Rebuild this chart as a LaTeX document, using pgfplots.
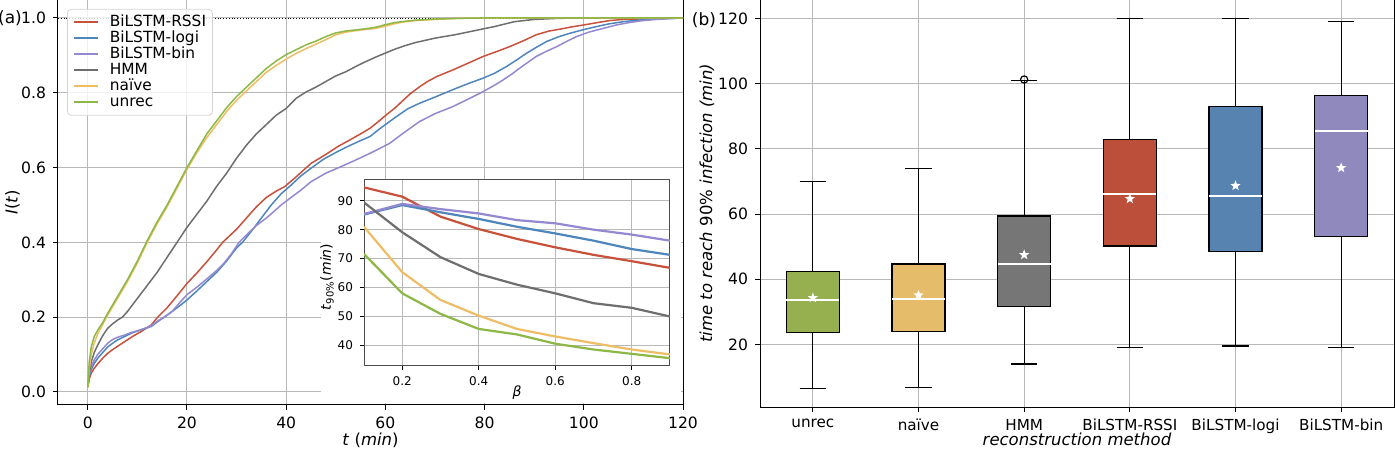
\documentclass[border=0pt]{standalone}
\usepackage{fontspec}
\setmainfont{DejaVu Sans}
\usepackage{pgfplots}
\pgfplotsset{compat=1.18}
\usepgfplotslibrary{statistics}
\newcommand\fs[1]{\fontsize{#1}{#1}\selectfont}
\definecolor{cRSSI}{HTML}{C8513B}
\definecolor{cLogi}{HTML}{4E86BC}
\definecolor{cBin}{HTML}{9489D0}
\definecolor{cHMM}{HTML}{6E6E6E}
\definecolor{cNaive}{HTML}{EFBD65}
\definecolor{cUnrec}{HTML}{8DB845}
\definecolor{bUnrec}{HTML}{97B04F}
\definecolor{bNaive}{HTML}{E5BC69}
\definecolor{bHMM}{HTML}{767676}
\definecolor{bRSSI}{HTML}{BB4F3A}
\definecolor{bLogi}{HTML}{5783B1}
\definecolor{bBin}{HTML}{8F89BD}
\definecolor{gridc}{HTML}{B8B8B8}
\pgfdeclareplotmark{fstar}{%
  \pgfpathmoveto{\pgfpointpolar{90}{\pgfplotmarksize}}%
  \pgfpathlineto{\pgfpointpolar{126}{0.42\pgfplotmarksize}}%
  \pgfpathlineto{\pgfpointpolar{162}{\pgfplotmarksize}}%
  \pgfpathlineto{\pgfpointpolar{198}{0.42\pgfplotmarksize}}%
  \pgfpathlineto{\pgfpointpolar{234}{\pgfplotmarksize}}%
  \pgfpathlineto{\pgfpointpolar{270}{0.42\pgfplotmarksize}}%
  \pgfpathlineto{\pgfpointpolar{306}{\pgfplotmarksize}}%
  \pgfpathlineto{\pgfpointpolar{342}{0.42\pgfplotmarksize}}%
  \pgfpathlineto{\pgfpointpolar{18}{\pgfplotmarksize}}%
  \pgfpathlineto{\pgfpointpolar{54}{0.42\pgfplotmarksize}}%
  \pgfpathclose\pgfusepathqfill}
\pgfplotsset{
  common/.style={
    scale only axis,
    axis line style={black, line width=0.5pt},
    tick align=outside, tick pos=left, major tick length=2.5pt,
    tick style={black, line width=0.5pt},
    grid=major, major grid style={gridc, line width=0.5pt},
    /pgf/number format/assume math mode=true,
    tick label style={font=\fs{7.8}},
    label style={font=\fs{8.25}},
  }
}
\begin{document}
\begin{tikzpicture}
\path[use as bounding box] (0,0) rectangle (697.5pt,224.5pt);
% ---------------- left panel
\begin{axis}[common, name=left,
  at={(29pt,22pt)}, anchor=south west,
  width=312.5pt, height=202.5pt,
  xmin=-6, xmax=120, ymin=-0.035, ymax=1.048,
  xtick={0,20,40,60,80,100,120}, ytick={0,0.2,0.4,0.6,0.8,1.0},
  yticklabel style={/pgf/number format/.cd, fixed, fixed zerofill, precision=1},
  xlabel={\textit{t} (\textit{min})}, ylabel={\textit{I}(\textit{t})},
  xlabel style={at={(axis description cs:0.5,-0.086)}, anchor=center},
  ylabel style={at={(axis description cs:-0.073,0.5)}, anchor=center},
  legend style={at={(0.0144,0.978)}, anchor=north west, draw=gridc!60,
    rounded corners=2pt, fill=white, fill opacity=0.8, text opacity=1, draw opacity=1,
    font=\fs{7.7}, inner xsep=3pt, inner ysep=2.5pt, row sep=0pt, column sep=5pt,
    nodes={inner sep=0.2pt, text height=6pt, text depth=1.6pt}},
  legend cell align=left,
  legend image code/.code={\draw[#1, line width=1pt] (0pt,0pt) -- (12pt,0pt);},
]
\fill[white] (rel axis cs:0.421,0.004) rectangle (rel axis cs:0.997,0.558);
\addplot[black, densely dotted, line width=0.4pt, forget plot] coordinates {(-6,1) (120,1)};
\addplot[cRSSI, line width=0.75pt] coordinates {(0,0.013) (0.3,0.035) (0.7,0.05) (1.3,0.063) (2,0.075) (3,0.09) (4,0.103) (5,0.113) (6,0.122) (7.4,0.134) (9,0.148) (10.7,0.161) (12.8,0.179) (14.1,0.2) (16,0.225) (18,0.257) (20,0.29) (22,0.318) (24,0.348) (26,0.38) (27.2,0.40) (28,0.41) (30,0.435) (32,0.465) (34,0.495) (36,0.52) (38,0.537) (39.7,0.549) (42,0.575) (45,0.611) (48,0.635) (50.4,0.656) (53,0.675) (55,0.69) (56.9,0.705) (58.5,0.722) (60.2,0.741) (62,0.76) (63.6,0.78) (65,0.797) (66.9,0.816) (68.5,0.83) (70.3,0.843) (73.6,0.861) (76.5,0.878) (79.7,0.897) (82,0.908) (85,0.923) (88,0.94) (90.4,0.955) (93,0.965) (95.2,0.97) (97.5,0.976) (99.9,0.981) (102.5,0.987) (105.2,0.993) (108,0.996) (110.6,0.997) (114,0.999) (120,1.0)};
\addlegendentry{BiLSTM-RSSI}
\addplot[cLogi, line width=0.75pt] coordinates {(0,0.013) (0.3,0.04) (0.7,0.06) (1.3,0.076) (2,0.09) (3,0.105) (4,0.12) (5,0.13) (6,0.139) (7.4,0.148) (9,0.158) (10.7,0.166) (12.8,0.175) (14.1,0.188) (15.4,0.2) (17,0.215) (18.5,0.23) (20,0.246) (22,0.27) (24,0.295) (26,0.32) (28,0.35) (30,0.385) (31.2,0.40) (33,0.43) (35,0.465) (37,0.5) (39,0.53) (41,0.553) (43,0.578) (45,0.598) (47.5,0.622) (50.4,0.643) (53,0.66) (55,0.672) (56.9,0.683) (59,0.705) (62.2,0.736) (64.5,0.757) (66.9,0.772) (70.3,0.79) (74.3,0.812) (77,0.826) (79.7,0.839) (82,0.852) (84.4,0.87) (86.5,0.888) (88.5,0.906) (90.5,0.922) (92.5,0.937) (95,0.95) (97.2,0.959) (100,0.969) (102.6,0.977) (105,0.984) (108,0.99) (111,0.994) (114,0.997) (120,1.0)};
\addlegendentry{BiLSTM-logi}
\addplot[cBin, line width=0.75pt] coordinates {(0,0.013) (0.3,0.045) (0.7,0.068) (1.3,0.085) (2,0.1) (3,0.115) (4,0.13) (5,0.14) (6,0.146) (7.4,0.152) (9,0.16) (10.7,0.166) (12.8,0.177) (14.1,0.19) (15.5,0.2) (17,0.215) (18.5,0.238) (20,0.26) (22,0.28) (24,0.302) (26,0.325) (27.5,0.345) (29,0.37) (30.5,0.40) (32,0.42) (34,0.445) (36,0.465) (38,0.488) (39,0.5) (41,0.52) (43,0.54) (45,0.562) (48,0.585) (51,0.602) (54,0.62) (56.9,0.638) (59,0.652) (60.9,0.665) (63.6,0.692) (66.9,0.723) (70,0.744) (73.6,0.763) (77,0.785) (79.7,0.803) (82,0.82) (83.7,0.834) (85.5,0.85) (87.1,0.866) (88.8,0.882) (90.4,0.897) (92.5,0.911) (94.5,0.923) (96.5,0.937) (98.5,0.95) (101,0.962) (103.9,0.972) (106.5,0.981) (109.3,0.988) (112,0.993) (114.6,0.996) (120,1.0)};
\addlegendentry{BiLSTM-bin}
\addplot[cHMM, line width=0.75pt] coordinates {(0,0.013) (0.3,0.05) (0.7,0.08) (1.3,0.105) (2,0.125) (3,0.15) (4,0.17) (5,0.182) (6,0.192) (7,0.2) (8,0.215) (10,0.25) (12,0.285) (14,0.32) (16,0.36) (18,0.4) (20,0.44) (22,0.475) (24,0.51) (26,0.55) (28,0.585) (30,0.625) (32,0.66) (34,0.69) (36,0.715) (38,0.74) (40,0.758) (42,0.785) (44,0.802) (46,0.815) (48,0.83) (50,0.845) (52,0.856) (54,0.87) (56,0.883) (58,0.895) (60,0.906) (62,0.917) (64,0.926) (66,0.934) (68,0.94) (70,0.946) (74,0.955) (78,0.966) (82,0.977) (86,0.99) (90,0.996) (95,0.999) (100,1.0) (120,1.0)};
\addlegendentry{HMM}
\addplot[cNaive, line width=0.75pt] coordinates {(0,0.013) (0.3,0.06) (0.7,0.1) (1.3,0.13) (2,0.155) (3,0.18) (4,0.205) (6,0.25) (8,0.295) (10,0.345) (12,0.4) (14,0.45) (16,0.495) (18,0.545) (20,0.595) (22,0.64) (24,0.68) (26,0.715) (28,0.75) (30,0.78) (32,0.805) (34,0.83) (36,0.855) (38,0.873) (40,0.89) (42,0.905) (44,0.918) (46,0.93) (48,0.942) (50,0.955) (52,0.962) (54,0.966) (56,0.969) (58,0.972) (60,0.978) (62,0.985) (64,0.99) (66,0.993) (70,0.996) (75,0.999) (80,1.0) (120,1.0)};
\addlegendentry{naïve}
\addplot[cUnrec, line width=0.75pt] coordinates {(0,0.013) (0.3,0.08) (0.7,0.12) (1.3,0.148) (2,0.165) (3,0.185) (4,0.21) (6,0.255) (8,0.3) (10,0.35) (12,0.405) (14,0.455) (16,0.5) (18,0.55) (20,0.6) (22,0.645) (24,0.69) (26,0.725) (28,0.76) (30,0.79) (32,0.815) (34,0.84) (36,0.865) (38,0.885) (40,0.902) (42,0.915) (44,0.928) (46,0.938) (48,0.95) (50,0.96) (52,0.965) (54,0.968) (56,0.971) (58,0.975) (60,0.982) (62,0.988) (64,0.991) (66,0.994) (70,0.997) (75,0.999) (80,1.0) (120,1.0)};
\addlegendentry{unrec}
\end{axis}
\node[font=\fs{8.5}] at ([xshift=-24pt,yshift=-9pt]left.north west) {(a)};
% ---------------- inset
\begin{axis}[common,
  at={(182pt,41.5pt)}, anchor=south west,
  width=153pt, height=93.5pt,
  xmin=0.1, xmax=0.9, ymin=32.9, ymax=97.5,
  xtick={0.2,0.4,0.6,0.8}, ytick={40,50,60,70,80,90},
  axis background/.style={fill=white},
  axis line style={black!70, line width=0.5pt},
  major tick length=2pt,
  tick label style={font=\fs{6}},
  label style={font=\fs{7}},
  xlabel={\textit{β}},
  ylabel={\textit{t}\textsubscript{90\%}(\textit{min})},
  xlabel style={at={(axis description cs:0.5,-0.144)}, anchor=center},
  ylabel style={at={(axis description cs:-0.121,0.476)}, anchor=center},
]
\addplot[cRSSI, line width=1.1pt] coordinates {(0.1,94.6) (0.2,91.4) (0.3,84.5) (0.4,80.2) (0.5,76.8) (0.6,73.9) (0.7,71.3) (0.8,69.1) (0.9,66.8)};
\addplot[cLogi, line width=1.1pt] coordinates {(0.1,85.2) (0.2,88.5) (0.3,86.0) (0.4,83.7) (0.5,81.0) (0.6,78.7) (0.7,76.2) (0.8,73.3) (0.9,71.3)};
\addplot[cBin, line width=1.1pt] coordinates {(0.1,85.4) (0.2,88.9) (0.3,87.1) (0.4,85.6) (0.5,83.3) (0.6,82.2) (0.7,80.0) (0.8,78.3) (0.9,76.2)};
\addplot[cHMM, line width=1.1pt] coordinates {(0.1,89.4) (0.2,79.1) (0.3,70.5) (0.4,64.7) (0.5,61.0) (0.6,58.0) (0.7,54.6) (0.8,53.0) (0.9,50.0)};
\addplot[cNaive, line width=1.1pt] coordinates {(0.1,81.0) (0.2,65.3) (0.3,55.7) (0.4,50.3) (0.5,45.7) (0.6,43.1) (0.7,40.8) (0.8,38.6) (0.9,36.9)};
\addplot[cUnrec, line width=1.1pt] coordinates {(0.1,71.6) (0.2,58.0) (0.3,50.9) (0.4,45.7) (0.5,43.8) (0.6,40.6) (0.7,38.6) (0.8,37.1) (0.9,35.6)};
\end{axis}
% ---------------- right panel
\begin{axis}[common, name=right,
  at={(380pt,21pt)}, anchor=south west,
  width=317pt, height=203.5pt,
  xmin=0.5, xmax=6.5, ymin=0.8, ymax=125.7,
  xtick={1,2,3,4,5,6},
  xticklabels={unrec,naïve,HMM,BiLSTM-RSSI,BiLSTM-logi,BiLSTM-bin},
  xticklabel style={font=\fs{7.6}},
  ytick={20,40,60,80,100,120},
  xlabel={\textit{reconstruction method}},
  ylabel={\textit{time to reach} 90\% \textit{infection (min)}},
  xlabel style={at={(axis description cs:0.5,-0.08)}, anchor=center},
  ylabel style={at={(axis description cs:-0.0836,0.501)}, anchor=center},
  boxplot/draw direction=y,
  boxplot/box extend=0.5,
  boxplot/whisker extend=0.25,
  boxplot/every median/.style={draw=white, line width=1pt},
]
\addplot[boxplot prepared={draw position=1, median=33.5, upper quartile=42.5, lower quartile=23.6, upper whisker=70.1, lower whisker=6.6}, draw=black, line width=0.6pt, fill=bUnrec] coordinates {};
\addplot[boxplot prepared={draw position=2, median=33.8, upper quartile=44.7, lower quartile=24.0, upper whisker=73.9, lower whisker=6.9}, draw=black, line width=0.6pt, fill=bNaive] coordinates {};
\addplot[boxplot prepared={draw position=3, median=44.6, upper quartile=59.4, lower quartile=31.6, upper whisker=101.0, lower whisker=14.0}, draw=black, line width=0.6pt, fill=bHMM, mark=o, mark size=1.8pt, mark options={draw=black, fill=none}] coordinates {(0,101.3)};
\addplot[boxplot prepared={draw position=4, median=66.1, upper quartile=82.8, lower quartile=50.2, upper whisker=120.0, lower whisker=19.0}, draw=black, line width=0.6pt, fill=bRSSI] coordinates {};
\addplot[boxplot prepared={draw position=5, median=65.6, upper quartile=93.1, lower quartile=48.4, upper whisker=119.9, lower whisker=19.5}, draw=black, line width=0.6pt, fill=bLogi] coordinates {};
\addplot[boxplot prepared={draw position=6, median=85.5, upper quartile=96.3, lower quartile=53.1, upper whisker=119.2, lower whisker=19.0}, draw=black, line width=0.6pt, fill=bBin] coordinates {};
\addplot[only marks, mark=fstar, mark size=2.7pt, draw=white, fill=white] coordinates {(1,34.3) (2,35.1) (3,47.5) (4,64.7) (5,68.7) (6,74.2)};
\end{axis}
\node[font=\fs{8.5}] at ([xshift=-28pt,yshift=-10pt]right.north west) {(b)};
\end{tikzpicture}
\end{document}
